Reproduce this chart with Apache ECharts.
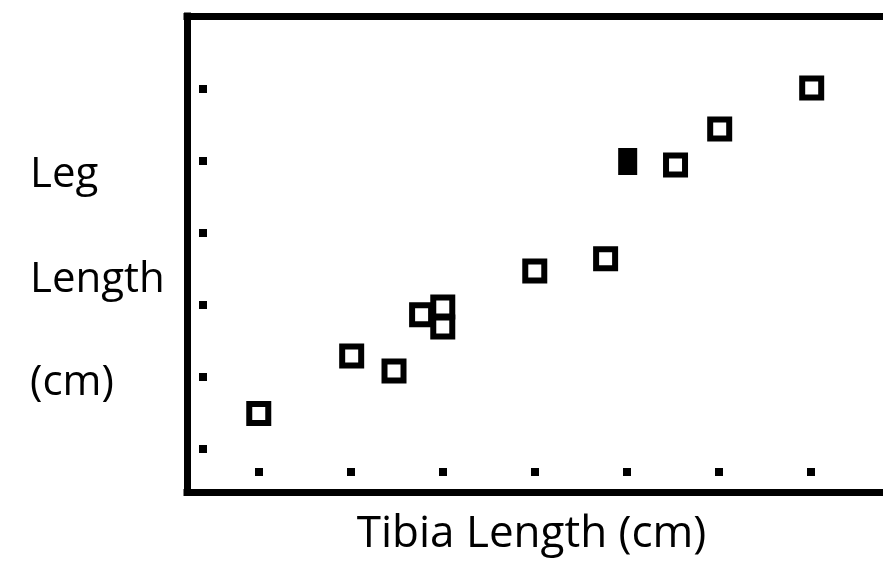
<!DOCTYPE html>
<html>
<head>
<meta charset="utf-8">
<script src="https://cdn.jsdelivr.net/npm/echarts@6/dist/echarts.min.js"></script>
<style>
html,body{margin:0;padding:0;background:#fff;}
#chart{width:883px;height:562px;}
</style>
</head>
<body>
<div id="chart"></div>
<script>
// Tibia length (x) vs leg length (y), open squares
const tibiaOpen = [1.00, 2.01, 2.47, 2.77, 3.00, 3.00, 4.00, 4.77, 5.53, 6.01, 7.01];
const legOpen   = [1.49, 2.29, 2.08, 2.86, 2.97, 2.69, 3.47, 3.64, 4.94, 5.44, 6.01];
// highlighted (filled) point
const tibiaFilled = [5.01];
const legFilled   = [4.99];
// tick mark positions (no labels shown)
const xTickValues = [1, 2, 3, 4, 5, 6, 7];
const yTickValues = [1, 2, 3, 4, 5, 6];
const xTitle = 'Tibia Length (cm)';
const yTitleLines = ['Leg', 'Length', '(cm)'];

const FONT = '"Open Sans", "Noto Sans", sans-serif';
const chart = echarts.init(document.getElementById('chart'), null, {renderer: 'canvas'});

const xRange = {min: 0.22, max: 7.785};
const yRange = {min: 0.4, max: 7.01};

const openData = tibiaOpen.map((x, i) => [x, legOpen[i]]);
const filledData = tibiaFilled.map((x, i) => [x, legFilled[i]]);

const frameLine = {show: true, lineStyle: {color: '#000', width: 7, cap: 'square'}};
const hidden = {axisLabel: {show: false}, splitLine: {show: false}};

const yTitleMid = [175, 280, 383];

chart.setOption({
  backgroundColor: '#fff',
  animation: false,
  grid: {left: 187, top: 16, right: 0, bottom: 70, outerBoundsMode: 'none'},
  xAxis: [
    Object.assign({type: 'value', min: xRange.min, max: xRange.max, position: 'bottom',
     axisLine: frameLine, axisTick: {show: false}}, hidden),
    Object.assign({type: 'value', min: xRange.min, max: xRange.max, position: 'bottom', offset: -24,
     axisLine: {show: false},
     axisTick: {show: true, inside: false, length: 8, customValues: xTickValues,
                lineStyle: {color: '#000', width: 8}}}, hidden),
    Object.assign({type: 'value', min: xRange.min, max: xRange.max, position: 'top',
     axisLine: frameLine, axisTick: {show: false}}, hidden)
  ],
  yAxis: [
    Object.assign({type: 'value', min: yRange.min, max: yRange.max, position: 'left',
     axisLine: frameLine, axisTick: {show: false}}, hidden),
    Object.assign({type: 'value', min: yRange.min, max: yRange.max, position: 'left', offset: -20,
     axisLine: {show: false},
     axisTick: {show: true, inside: false, length: 8, customValues: yTickValues,
                lineStyle: {color: '#000', width: 8}}}, hidden)
  ],
  series: [
    {type: 'scatter', xAxisIndex: 0, yAxisIndex: 0, data: openData,
     symbol: 'rect', symbolSize: 19,
     itemStyle: {color: '#fff', borderColor: '#000', borderWidth: 6, opacity: 1}},
    {type: 'scatter', xAxisIndex: 0, yAxisIndex: 0, data: filledData,
     symbol: 'rect', symbolSize: [14, 20],
     itemStyle: {color: '#000', borderColor: '#000', borderWidth: 6, opacity: 1}}
  ],
  graphic: [
    ...yTitleLines.map((t, i) => ({
      type: 'text',
      style: {text: t, x: 30, y: yTitleMid[i], align: 'left', verticalAlign: 'middle',
              font: '42px ' + FONT, fill: '#000'}
    })),
    {type: 'text',
     style: {text: xTitle, x: 531.5, y: 534, align: 'center', verticalAlign: 'middle',
             font: '44px ' + FONT, fill: '#000'}}
  ]
});
</script>
</body>
</html>
